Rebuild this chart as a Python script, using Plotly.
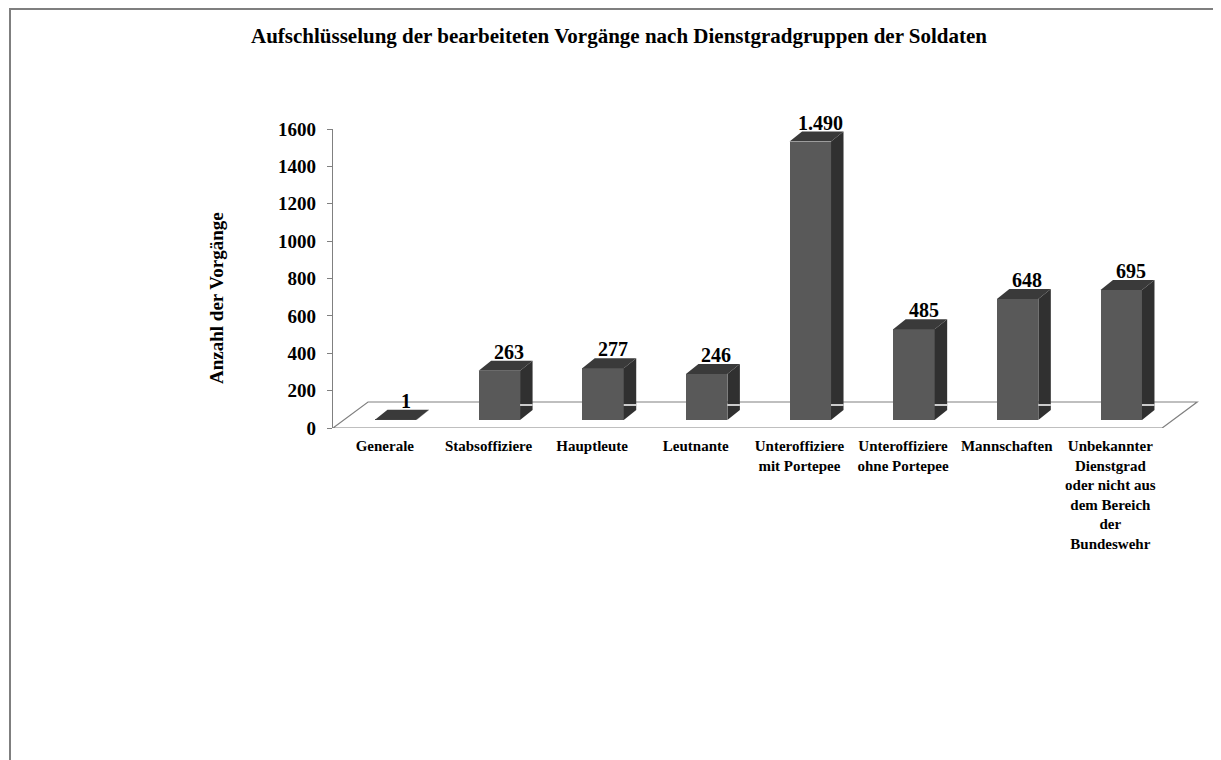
import plotly.graph_objects as go

# ---------------- data ----------------
categories = [
    "Generale",
    "Stabsoffiziere",
    "Hauptleute",
    "Leutnante",
    "Unteroffiziere<br>mit Portepee",
    "Unteroffiziere<br>ohne Portepee",
    "Mannschaften",
    "Unbekannter<br>Dienstgrad<br>oder nicht aus<br>dem Bereich<br>der<br>Bundeswehr",
]
values = [1, 263, 277, 246, 1490, 485, 648, 695]
y_ticks = [0, 200, 400, 600, 800, 1000, 1200, 1400, 1600]
title_text = "Aufschlüsselung der bearbeiteten Vorgänge nach Dienstgradgruppen der Soldaten"
y_title = "Anzahl der Vorgänge"

# ---------------- layout constants ----------------
PAGE_OFF = 8                      # browser body margin
W, H = 1221 - PAGE_OFF, 760 - PAGE_OFF
ML, MR, MT, MB = 333 - PAGE_OFF, 7, 129 - PAGE_OFF, 332
X_RANGE = [-0.5, 8.0]
Y_RANGE = [0, 1600]
plot_w = W - ML - MR
plot_h = H - MT - MB
px_per_x = plot_w / (X_RANGE[1] - X_RANGE[0])
px_per_y = plot_h / (Y_RANGE[1] - Y_RANGE[0])

BAR_W = 0.4
BAR_OFF = -0.095
DEPTH_DX = 12.5 / px_per_x          # 3D depth in x units
DEPTH_DY = 10.0 / px_per_y          # 3D depth in y units
BAR_SHIFT = 8.0 / px_per_y          # bars sit in front of the back wall
FLOOR_DX = 35.0 / px_per_x
FLOOR_DY = 26.0 / px_per_y
WHITE_LINE = 15.0 / px_per_y

FONT = "Liberation Serif"
FRONT = "#595959"
SIDE = "#303030"
TOP = "#3a3a3a"
EDGE = "#808080"

idx = list(range(len(categories)))


def fmt_de(v):
    return f"{v:,}".replace(",", ".")


def px2paper_x(p):
    return (p - PAGE_OFF - ML) / plot_w


def px2paper_y(p):
    return (H - MB - (p - PAGE_OFF)) / plot_h


fig = go.Figure()

fig.add_trace(go.Bar(
    x=idx, y=values, yaxis="y2",
    width=BAR_W, offset=BAR_OFF,
    marker=dict(color=FRONT, line=dict(width=0)),
    hoverinfo="x+y", showlegend=False,
))

shapes = []
# floor
shapes.append(dict(
    type="path", xref="x", yref="y", layer="below",
    path=(f"M {X_RANGE[0]},0 L {X_RANGE[0] + 8},0 "
          f"L {X_RANGE[0] + 8 + FLOOR_DX},{FLOOR_DY} L {X_RANGE[0] + FLOOR_DX},{FLOOR_DY} Z"),
    fillcolor="white", line=dict(color=EDGE, width=1.2),
))

# 3D side and top faces of each bar
for i, v in zip(idx, values):
    L = i + BAR_OFF
    R = L + BAR_W
    shapes.append(dict(
        type="path", xref="x", yref="y2", layer="above",
        path=(f"M {R},0 L {R + DEPTH_DX},{DEPTH_DY} L {R + DEPTH_DX},{v + DEPTH_DY} "
              f"L {R},{v} Z"),
        fillcolor=SIDE, line=dict(width=0),
    ))
    shapes.append(dict(
        type="path", xref="x", yref="y2", layer="above",
        path=(f"M {L},{v} L {R},{v} L {R + DEPTH_DX},{v + DEPTH_DY} "
              f"L {L + DEPTH_DX},{v + DEPTH_DY} Z"),
        fillcolor=TOP, line=dict(width=0),
    ))
    if v > 100:
        shapes.append(dict(
            type="line", xref="x", yref="y2", layer="above",
            x0=R, x1=R + DEPTH_DX, y0=WHITE_LINE, y1=WHITE_LINE,
            line=dict(color="white", width=1.5),
        ))

# outer chart border
shapes.append(dict(
    type="path", xref="paper", yref="paper", layer="above",
    path=(f"M {px2paper_x(10)},{px2paper_y(800)} L {px2paper_x(10)},{px2paper_y(9)} "
          f"L {px2paper_x(1240)},{px2paper_y(9)}"),
    line=dict(color="#7f7f7f", width=2),
))

annotations = []
for i, v in zip(idx, values):
    annotations.append(dict(
        x=i + 0.2, y=v, xref="x", yref="y2", text=fmt_de(v),
        showarrow=False, yanchor="middle", yshift=19,
        font=dict(family=FONT, size=20, color="black", weight="bold"),
    ))

annotations.append(dict(
    x=px2paper_x(216), y=px2paper_y(298), xref="paper", yref="paper",
    text=y_title, textangle=-90, showarrow=False,
    xanchor="center", yanchor="middle",
    font=dict(family=FONT, size=19, color="black", weight="bold"),
))

fig.update_layout(
    width=W, height=H,
    margin=dict(l=ML, r=MR, t=MT, b=MB),
    paper_bgcolor="white", plot_bgcolor="rgba(0,0,0,0)",
    title=dict(
        text=title_text, xref="container", x=(619 - PAGE_OFF) / W, xanchor="center",
        yref="container", y=1 - (36 - PAGE_OFF) / H, yanchor="middle",
        font=dict(family=FONT, size=21, color="black", weight="bold"),
    ),
    xaxis=dict(
        range=X_RANGE, tickmode="array", tickvals=idx, ticktext=categories,
        showline=False, showgrid=False, zeroline=False,
        ticks="outside", ticklen=4, tickcolor="rgba(0,0,0,0)",
        tickfont=dict(family=FONT, size=15, color="black", weight="bold"),
        fixedrange=True,
    ),
    yaxis=dict(
        range=Y_RANGE, tickmode="array", tickvals=y_ticks,
        showline=True, linecolor=EDGE, linewidth=1.2,
        ticks="outside", ticklen=5, tickcolor=EDGE,
        showgrid=False, zeroline=False, ticklabelstandoff=7,
        tickfont=dict(family=FONT, size=19, color="black", weight="bold"),
        fixedrange=True,
    ),
    yaxis2=dict(
        overlaying="y", range=[Y_RANGE[0] - BAR_SHIFT, Y_RANGE[1] - BAR_SHIFT],
        visible=False, fixedrange=True,
    ),
    shapes=shapes,
    annotations=annotations,
    bargap=0,
)

fig.write_html("out.html")
